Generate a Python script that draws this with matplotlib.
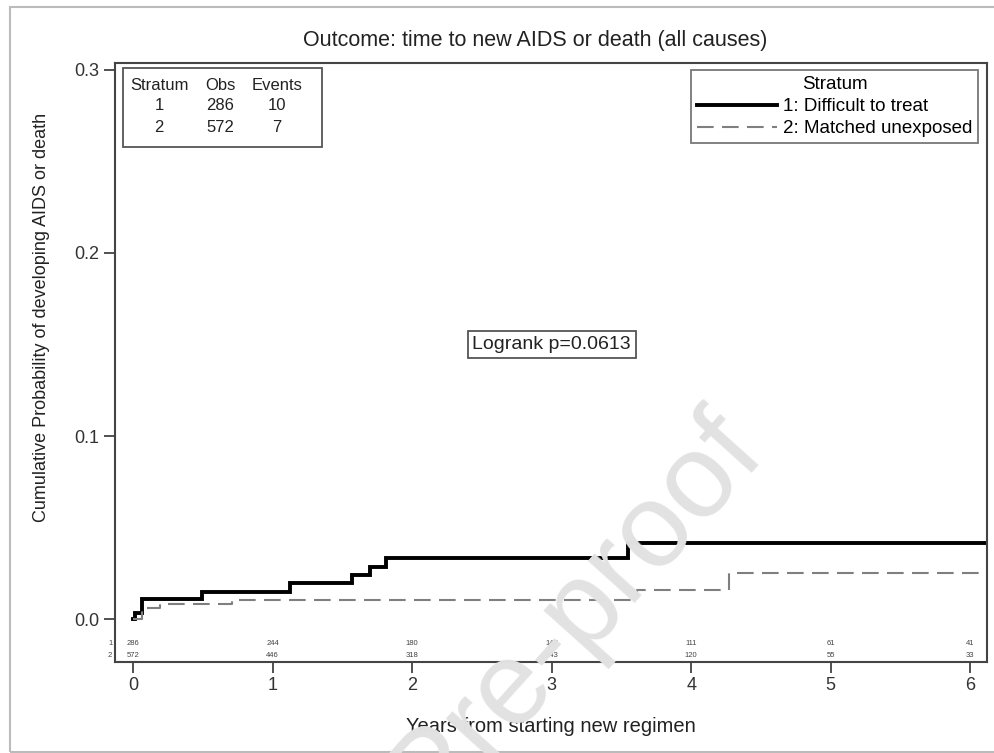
import matplotlib
matplotlib.use("Agg")
import matplotlib.pyplot as plt
from matplotlib.patches import Rectangle

plt.rcParams['font.family'] = ['Liberation Sans', 'DejaVu Sans']

# cumulative incidence, step curves (years, probability)
t_diff = [0, 0.014, 0.065, 0.495, 1.125, 1.57, 1.70, 1.81, 3.55, 6.12]
p_diff = [0, 0.0035, 0.0112, 0.0148, 0.0197, 0.0240, 0.0284, 0.0333, 0.0415, 0.0415]
t_match = [0, 0.06, 0.19, 0.71, 3.61, 4.27, 6.12]
p_match = [0, 0.0058, 0.0080, 0.0104, 0.0158, 0.0250, 0.0250]

# numbers at risk
risk_years = [0, 1, 2, 3, 4, 5, 6]
risk_diff = [286, 244, 180, 147, 111, 61, 41]
risk_match = [572, 446, 318, 243, 120, 55, 33]

strata = ['1', '2']
obs = [286, 572]
events = [10, 7]
labels = ['1: Difficult to treat', '2: Matched unexposed']

fig = plt.figure(figsize=(9.95, 7.53), dpi=100)
ax = fig.add_axes([0.1156, 0.1208, 0.8763, 0.7955])

ax.plot(t_diff, p_diff, drawstyle='steps-post', color='black', lw=2.8,
        label=labels[0], solid_joinstyle='miter')
ax.plot(t_match, p_match, drawstyle='steps-post', color='#7f7f7f', lw=1.5,
        dashes=(8, 4), label=labels[1])

ax.set_xlim(-0.13, 6.12)
ax.set_ylim(-0.0235, 0.3038)
ax.set_xticks(range(7))
ax.set_yticks([0.0, 0.1, 0.2, 0.3])
ax.set_yticklabels(['0.0', '0.1', '0.2', '0.3'])
ax.tick_params(direction='out', length=8, width=1.2, labelsize=13,
               colors='#333333', pad=3)
for s in ax.spines.values():
    s.set_color('#444444')
    s.set_linewidth(1.5)

ax.set_title('Outcome: time to new AIDS or death (all causes)', fontsize=15.5,
             color='#222222', pad=12, x=0.482)
ax.set_xlabel('Years from starting new regimen', fontsize=14.5, color='#222222',
              labelpad=16)
fig.text(0.042, 0.578, 'Cumulative Probability of developing AIDS or death',
         rotation=90, ha='center', va='center', fontsize=13, color='#222222')

# numbers at risk inside the bottom of the axes
for x, a, b in zip(risk_years, risk_diff, risk_match):
    ax.text(x, -0.0131, str(a), ha='center', va='center', fontsize=5.5, color='#444444')
    ax.text(x, -0.0202, str(b), ha='center', va='center', fontsize=5.5, color='#444444')
ax.text(-0.165, -0.0131, '1', ha='center', va='center', fontsize=5.5, color='#444444')
ax.text(-0.165, -0.0202, '2', ha='center', va='center', fontsize=5.5, color='#444444')

# stratum summary box
ax.add_patch(Rectangle((0.0092, 0.8598), 0.2285, 0.1319, transform=ax.transAxes,
                       fill=False, edgecolor='#555555', lw=1.3))
col_x = [0.0505, 0.1205, 0.1855]
row_y = [0.963, 0.929, 0.892]
for cx, head in zip(col_x, ['Stratum', 'Obs', 'Events']):
    ax.text(cx, row_y[0], head, transform=ax.transAxes, ha='center', va='center',
            fontsize=12, color='#222222')
for i in range(2):
    for cx, val in zip(col_x, [strata[i], obs[i], events[i]]):
        ax.text(cx, row_y[i + 1], str(val), transform=ax.transAxes, ha='center',
                va='center', fontsize=12, color='#222222')

leg = ax.legend(loc='upper right', bbox_to_anchor=(0.9897, 0.9883), title='Stratum',
                fontsize=13.5, title_fontsize=13.5, frameon=True, fancybox=False,
                handlelength=4.3, handletextpad=0.3, borderpad=0.3,
                labelspacing=0.25, borderaxespad=0, handleheight=0.6)
leg.get_frame().set_edgecolor('#555555')
leg.get_frame().set_linewidth(1.3)
leg._legend_box.sep = 4

ax.text(3.0, 0.150, 'Logrank p=0.0613', ha='center', va='center', fontsize=14,
        color='#222222',
        bbox=dict(boxstyle='square,pad=0.25', fc='white', ec='#555555', lw=1.3))

# outer frame
fig.add_artist(Rectangle((10 / 995, 0.0015), 1.0, 1 - 7 / 753 - 0.0015,
                         transform=fig.transFigure, fill=False,
                         edgecolor='#bbbbbb', lw=1.5))

# watermark
fig.text(745 / 995, 1 - 435 / 753, 'Journal Pre-proof', rotation=48,
         rotation_mode='anchor', ha='right', va='center', fontsize=86,
         color='#e2e2e2')

fig.savefig('out.png', dpi=100)
